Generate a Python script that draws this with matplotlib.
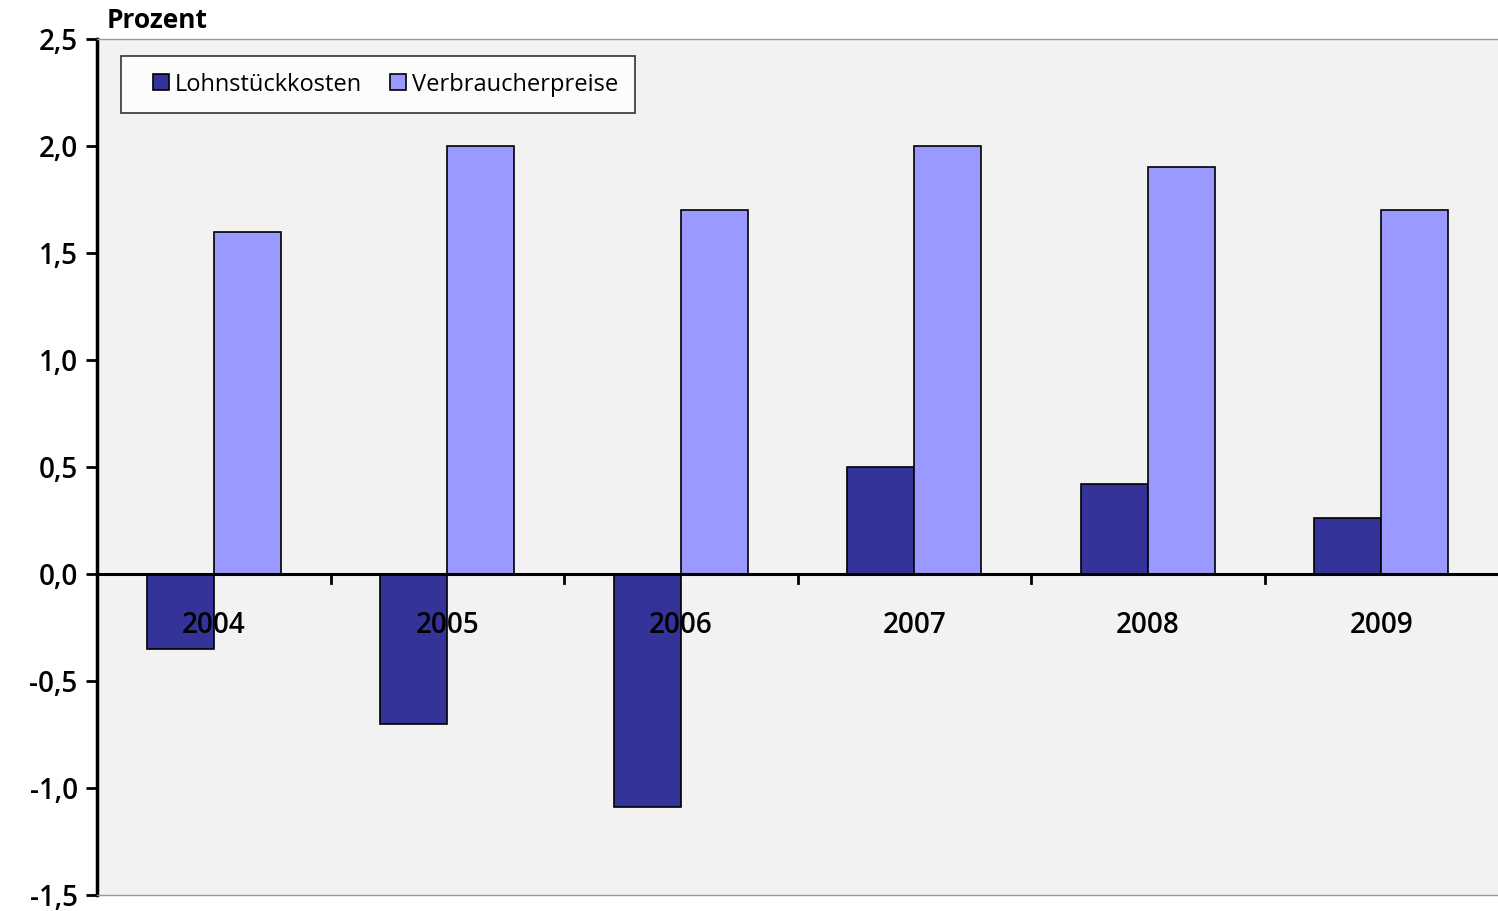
import numpy as np
import matplotlib.pyplot as plt
from matplotlib.lines import Line2D
from matplotlib.transforms import blended_transform_factory

# data
years = ['2004', '2005', '2006', '2007', '2008', '2009']
lohnstueckkosten = [-0.35, -0.70, -1.09, 0.50, 0.42, 0.26]
verbraucherpreise = [1.60, 2.00, 1.70, 2.00, 1.90, 1.70]
y_ticks = [-1.5, -1.0, -0.5, 0.0, 0.5, 1.0, 1.5, 2.0, 2.5]

plt.rcParams['font.family'] = ['Open Sans', 'DejaVu Sans']

fig = plt.figure(figsize=(14.98, 9.11), dpi=100)
ax = fig.add_axes([0.0648, 0.0176, 0.9352, 0.9396])
ax.set_facecolor('#f2f2f2')

x = np.arange(len(years))
w = 0.287
ax.bar(x - w / 2, lohnstueckkosten, w, color='#333399', edgecolor='black',
       linewidth=1.2, zorder=2)
ax.bar(x + w / 2, verbraucherpreise, w, color='#9999ff', edgecolor='black',
       linewidth=1.2, zorder=2)

# zero line with category separators
ax.axhline(0, color='black', linewidth=2.2, zorder=3)
for b in np.arange(0.5, len(years) - 0.5, 1):
    ax.plot([b, b], [0, -0.04], color='black', linewidth=2, zorder=3,
            clip_on=False)

# year labels just below zero line
trans = blended_transform_factory(ax.transData, ax.transData)
for xi, yr in zip(x, years):
    ax.text(xi, -0.24, yr, ha='center', va='center', fontsize=20,
            fontweight='semibold', transform=trans, zorder=4)

ax.set_xlim(-0.5, len(years) - 0.5)
ax.set_ylim(-1.5, 2.5)
ax.set_xticks([])
ax.set_yticks(y_ticks)
ax.set_yticklabels([f'{v:.1f}'.replace('.', ',') for v in y_ticks], fontsize=20,
                   fontweight='semibold')
ax.tick_params(axis='y', direction='out', length=8, width=2, pad=6)

for s in ['top', 'bottom']:
    ax.spines[s].set_color('#999999')
    ax.spines[s].set_linewidth(1)
ax.spines['right'].set_visible(False)
ax.spines['left'].set_linewidth(2.5)

fig.text(0.0714, 0.977, 'Prozent', fontsize=19, fontweight='bold',
         ha='left', va='center')

handles = [Line2D([], [], linestyle='none', marker='s', markersize=12,
                  markerfacecolor='#333399', markeredgecolor='black',
                  markeredgewidth=1.2, label='Lohnstückkosten'),
           Line2D([], [], linestyle='none', marker='s', markersize=12,
                  markerfacecolor='#9999ff', markeredgecolor='black',
                  markeredgewidth=1.2, label='Verbraucherpreise')]
leg = ax.legend(handles=handles, loc='upper left', bbox_to_anchor=(0.017, 0.980),
                borderaxespad=0, ncol=2, fontsize=17, frameon=True, fancybox=False,
                handlelength=2.0, handletextpad=-0.4, columnspacing=0.5,
                borderpad=0.7, edgecolor='black')
leg.get_frame().set_linewidth(1.2)

fig.savefig('out.png', dpi=100)
